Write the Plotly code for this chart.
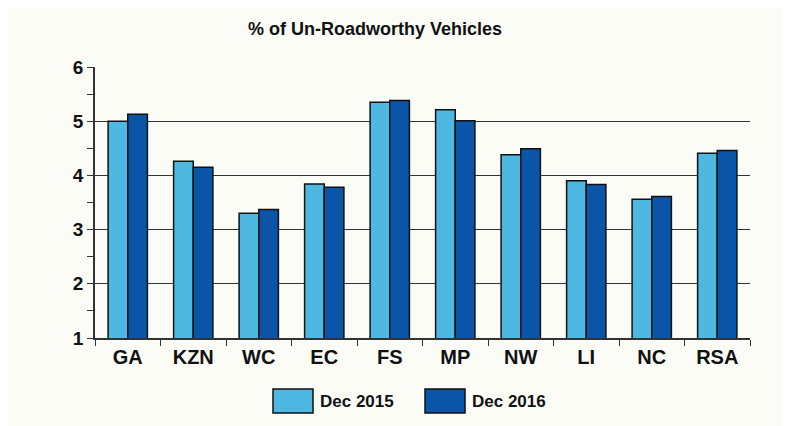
import plotly.graph_objects as go

categories = ["GA", "KZN", "WC", "EC", "FS", "MP", "NW", "LI", "NC", "RSA"]
dec_2015 = [5.00, 4.26, 3.30, 3.84, 5.35, 5.21, 4.38, 3.90, 3.56, 4.41]
dec_2016 = [5.13, 4.15, 3.37, 3.78, 5.38, 5.01, 4.49, 3.83, 3.61, 4.46]
series_names = ["Dec 2015", "Dec 2016"]
colors = ["#4db8e2", "#0b55a8"]

FONT = "Liberation Sans, Arial"
fig = go.Figure()
for name, vals, col in zip(series_names, [dec_2015, dec_2016], colors):
    fig.add_trace(go.Bar(x=categories, y=vals, name=name,
                         marker=dict(color=col, line=dict(color="#111111", width=1.5)), showlegend=False))

bg = "#fbfcf6"
OFF = 8  # default page body margin
W, H = 790 - OFF, 426 - OFF
L, R, T, B = 95 - OFF, 40, 67 - OFF, 88
pw, ph = W - L - R, H - T - B

def px(x):
    return (x - OFF - L) / pw

def py(y):
    return (H - B - (y - OFF)) / ph

shapes = []
annotations = []
legend_items = [(273, 318), (425, 470)]
for (bx, tx), name, col in zip(legend_items, series_names, colors):
    shapes.append(dict(type="rect", xref="paper", yref="paper", x0=px(bx), x1=px(bx + 40), y0=py(413), y1=py(389),
                       fillcolor=col, line=dict(color="#111111", width=1.5)))
    annotations.append(dict(text="<b>" + name + "</b>", xref="paper", yref="paper", x=px(tx), y=py(401),
                            xanchor="left", yanchor="middle", showarrow=False,
                            font=dict(family=FONT, size=17, color="#111111")))

fig.update_layout(
    width=W, height=H,
    margin=dict(l=L, r=R, t=T, b=B),
    paper_bgcolor=bg, plot_bgcolor=bg,
    barmode="group", bargap=0.4, bargroupgap=0,
    title=dict(text="<b>% of Un-Roadworthy Vehicles</b>", x=(375 - OFF) / W, xanchor="center",
               y=1 - (29 - OFF) / H, yanchor="middle",
               font=dict(family=FONT, size=18, color="#111111")),
    font=dict(family=FONT, color="#111111"),
    shapes=shapes, annotations=annotations,
    xaxis=dict(tickson="boundaries", ticks="outside", ticklen=6, tickcolor="#333333",
               showline=True, linecolor="#333333", linewidth=1.5,
               tickfont=dict(size=20, family=FONT, color="#111111"), showgrid=False),
    yaxis=dict(range=[1, 6], dtick=1, ticks="outside", ticklen=6, tickcolor="#333333",
               showline=True, linecolor="#333333", linewidth=1.5,
               showgrid=True, gridcolor="#333333", gridwidth=1, zeroline=False,
               tickfont=dict(size=19, family=FONT, color="#111111"),
               minor=dict(dtick=0.5, ticks="outside", ticklen=6, tickcolor="#333333", showgrid=False)),
)
fig.update_xaxes(tickprefix="<b>", ticksuffix="</b>")
fig.update_yaxes(tickprefix="<b>", ticksuffix="</b>")
fig.write_html("out.html")
